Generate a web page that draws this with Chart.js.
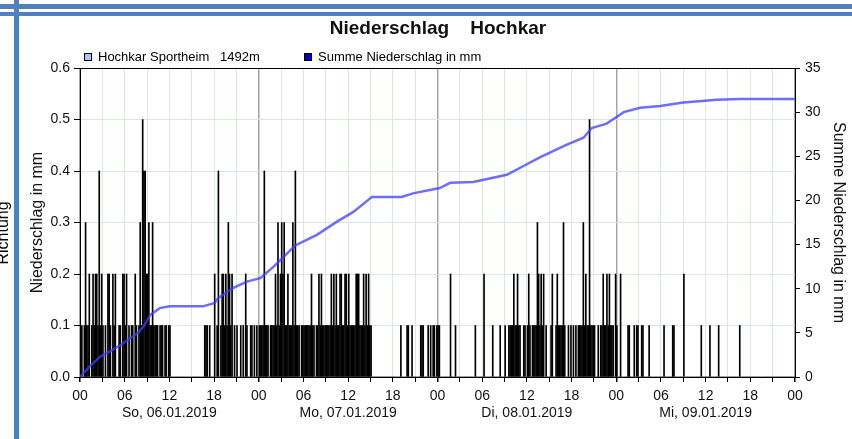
<!DOCTYPE html>
<html>
<head>
<meta charset="utf-8">
<script src="https://cdn.jsdelivr.net/npm/chart.js@4.4.1/dist/chart.umd.min.js"></script>
<style>
  html, body { margin: 0; padding: 0; background: #fff; }
  canvas { display: block; }
</style>
</head>
<body>
<canvas id="myChart" width="852" height="439"></canvas>
<script>
// 10-minute precipitation (mm), one row = 4 hours
const day1 = [
  0.1,0.1,0,0.1,0.3,0.1, 0.1,0.2,0,0.1,0.2,0.1, 0.2,0.2,0.1,0.4,0.1,0.2, 0.1,0,0.1,0,0.2,0.2,
  0.1,0,0.2,0.1,0.2,0, 0,0.1,0.1,0,0.2,0.2, 0.1,0.2,0,0.1,0,0.1, 0.1,0,0.2,0.1,0,0.1,
  0.3,0.1,0.5,0.4,0.4,0.2, 0.2,0.3,0.1,0.1,0.3,0.1, 0.1,0.1,0.1,0,0.1,0.1, 0.1,0,0.1,0.1,0,0.1,
  0.1,0,0,0,0,0, 0,0,0,0,0,0, 0,0,0,0,0,0, 0,0,0,0,0,0,
  0,0,0,0,0.1,0.1, 0.1,0,0.1,0,0,0, 0.2,0,0.1,0.4,0,0.1, 0.2,0.2,0.1,0.2,0.1,0.3,
  0.2,0.1,0.2,0,0.1,0, 0.1,0,0,0.1,0,0.1, 0,0.2,0.1,0,0,0.1, 0.1,0,0.1,0,0.1,0
];
const day2 = [
  0.1,0.1,0.1,0.1,0.4,0.1, 0.1,0.1,0,0.1,0.1,0.1, 0.1,0.2,0.1,0.3,0.1,0.2, 0.3,0.2,0.3,0.1,0.1,0.2,
  0.1,0.1,0.1,0.3,0.1,0.4, 0.1,0.1,0.1,0,0.1,0.1, 0.1,0.1,0.1,0.1,0.1,0.1, 0.2,0.1,0.1,0,0.1,0.1,
  0.2,0.1,0.2,0.1,0.1,0.1, 0.1,0.1,0.1,0.1,0.2,0.1, 0.2,0.1,0.2,0.1,0.1,0.2, 0.2,0.1,0.1,0.2,0.2,0.1,
  0.2,0.1,0.1,0.1,0.1,0.1, 0.2,0.2,0.2,0.1,0.1,0.1, 0.2,0.1,0.2,0.1,0.2,0.1, 0.1,0,0,0,0,0,
  0,0,0,0,0,0, 0,0,0,0,0,0, 0,0,0,0,0,0, 0.1,0,0,0,0,0.1,
  0.1,0,0,0.1,0,0, 0,0,0,0,0.1,0.1, 0.1,0,0,0,0.1,0, 0.1,0,0.1,0.1,0,0.1
];
const day3 = [
  0.1,0.1,0,0,0,0, 0,0,0,0,0.2,0, 0,0,0.1,0,0,0, 0,0,0,0,0,0,
  0,0,0,0,0,0, 0.1,0,0,0,0,0, 0,0.2,0,0,0,0, 0,0,0.1,0,0,0,
  0,0,0.1,0,0,0, 0.1,0,0,0.1,0.1,0.1, 0.1,0.2,0.1,0.1,0.2,0.1, 0.1,0,0,0.1,0.1,0,
  0.1,0.2,0.1,0,0.1,0.1, 0.1,0.1,0.3,0.2,0.1,0.2, 0.1,0.2,0,0.1,0,0, 0,0.1,0.2,0,0,0.1,
  0.2,0.1,0.1,0.1,0.1,0.3, 0.1,0,0,0.1,0,0.1, 0,0.1,0,0.1,0,0.1, 0.1,0.1,0.1,0.3,0.1,0.2,
  0.1,0.1,0.5,0.1,0.1,0.1, 0.1,0,0,0.1,0,0.1, 0.1,0.2,0.1,0.1,0.2,0.1, 0.2,0.1,0.1,0.1,0,0.2
];
const day4 = [
  0.1,0,0,0.2,0,0, 0,0,0,0.1,0.1,0, 0,0,0.1,0,0.1,0.1, 0,0,0.1,0.1,0,0,
  0,0,0.1,0,0,0, 0,0,0,0,0,0, 0,0,0.1,0,0,0, 0,0,0,0.1,0.1,0,
  0,0,0,0,0,0, 0.2,0,0,0,0,0, 0,0,0,0,0,0, 0,0,0.1,0,0,0,
  0,0,0,0.1,0,0, 0,0,0,0,0.1,0, 0,0,0,0,0,0, 0,0,0,0,0,0,
  0,0,0,0.1,0,0, 0,0,0,0,0,0, 0,0,0,0,0,0, 0,0,0,0,0,0,
  0,0,0,0,0,0, 0,0,0,0,0,0, 0,0,0,0,0,0, 0,0,0,0,0,0
];

// cumulative sum (mm), hours since So 00:00
const sumHours = [0, 1.3, 2.7, 4, 5.4, 6.6, 7.8, 8.6, 9.4, 10.7, 12, 16.5, 18.1, 18.5, 20.6, 22.4,
  24.2, 26, 28.9, 31.8, 34.5, 36.7, 39.2, 43.2, 44.7, 48.3, 49.7, 52.8, 57.3, 59.1, 61.8, 65.3,
  67.6, 68.7, 70.7, 72.5, 73, 75.2, 77.9, 81, 85.5, 88.6, 96];
const sumValues = [0, 1.2, 2.3, 2.9, 3.6, 4.3, 5.0, 5.8, 7.0, 7.8, 8.0, 8.0, 8.4, 8.9, 10.1, 10.8,
  11.2, 12.5, 14.9, 16.1, 17.6, 18.7, 20.4, 20.4, 20.8, 21.4, 22.0, 22.1, 22.9, 23.7, 24.9, 26.3,
  27.1, 28.2, 28.7, 29.7, 30.0, 30.5, 30.7, 31.1, 31.4, 31.5, 31.5];

const dayLabels = ['So, 06.01.2019', 'Mo, 07.01.2019', 'Di, 08.01.2019', 'Mi, 09.01.2019'];
const legendLabels = ['Hochkar Sportheim   1492m', 'Summe Niederschlag in mm'];
const legendColors = ['rgb(160,200,250)', 'rgb(0,0,210)'];

const FONT = "'Liberation Sans', Arial, sans-serif";

const tenMin = [...day1, ...day2, ...day3, ...day4];

const decor = {
  id: 'decor',
  afterDraw(chart) {
    const { ctx, chartArea: a } = chart;
    ctx.save();
    // top edge of the plot frame
    ctx.strokeStyle = '#000';
    ctx.lineWidth = 1;
    ctx.beginPath();
    ctx.moveTo(a.left, a.top + 0.5);
    ctx.lineTo(a.right, a.top + 0.5);
    ctx.stroke();

    // legend
    const lx = [84, 304];
    ctx.font = '13px ' + FONT;
    ctx.textBaseline = 'middle';
    legendLabels.forEach((t, i) => {
      ctx.fillStyle = legendColors[i];
      ctx.fillRect(lx[i], 53, 8, 8);
      ctx.strokeStyle = '#000';
      ctx.strokeRect(lx[i] + 0.5, 53.5, 7, 7);
      ctx.fillStyle = '#000';
      ctx.fillText(t, lx[i] + 14, 57);
    });

    // page frame around the image
    ctx.fillStyle = 'rgb(79,129,189)';
    ctx.fillRect(0, 4, 852, 5);
    ctx.fillRect(0, 12, 852, 4);
    ctx.fillRect(14, 0, 5, 439);

    // cut-off axis title of the neighbouring chart
    ctx.translate(8, 233);
    ctx.rotate(-Math.PI / 2);
    ctx.font = '16px ' + FONT;
    ctx.textAlign = 'center';
    ctx.textBaseline = 'alphabetic';
    ctx.fillStyle = '#000';
    ctx.fillText('Richtung', 0, 0);
    ctx.restore();
  }
};

const data = {
  datasets: [{
    type: 'line',
    label: legendLabels[1],
    data: sumHours.map((h, i) => ({ x: h, y: sumValues[i] })),
    yAxisID: 'y2',
    borderColor: 'rgba(60,60,255,0.75)',
    borderWidth: 2.5,
    pointRadius: 0,
    tension: 0
  }, {
    type: 'bar',
    label: legendLabels[0],
    data: tenMin.map((v, i) => ({ x: (i + 0.5) / 6, y: v })),
    yAxisID: 'y',
    backgroundColor: '#000',
    barThickness: 1
  }]
};

const config = {
  data: data,
  plugins: [decor],
  options: {
    responsive: false,
    animation: false,
    layout: { padding: { left: 24, right: 0, top: 0, bottom: 0 } },
    plugins: {
      legend: { display: false },
      tooltip: { enabled: false },
      title: {
        display: true,
        text: 'Niederschlag    Hochkar',
        color: '#111',
        font: { family: FONT, size: 19, weight: 'bold', lineHeight: 1.2 },
        padding: { top: 17.6, bottom: 27.6 }
      }
    },
    scales: {
      x: {
        type: 'linear',
        min: 0,
        max: 96,
        offset: false,
        afterFit: s => { s.height = 62; },
        border: { color: '#000', width: 1 },
        grid: {
          offset: false,
          color: c => (c.tick && c.tick.value % 24 === 0) ? 'rgb(165,165,165)' : 'rgb(218,234,218)',
          lineWidth: c => (c.tick && c.tick.value % 24 === 0) ? 1.5 : 1,
          tickColor: '#000',
          tickLength: 5
        },
        ticks: {
          stepSize: 3,
          autoSkip: false,
          maxRotation: 0,
          padding: 6,
          color: '#111',
          font: { family: FONT, size: 14, lineHeight: 1.2 },
          callback: v => {
            if (v % 6) return '';
            const h = String(v % 24).padStart(2, '0');
            if (v % 24 === 12) return [h, dayLabels[Math.floor(v / 24)]];
            return h;
          }
        }
      },
      y: {
        position: 'left',
        min: 0,
        max: 0.6,
        afterFit: s => { s.width = 56; },
        border: { color: '#000', width: 1 },
        grid: { color: 'rgb(218,234,218)', tickColor: '#000', tickLength: 6 },
        ticks: {
          stepSize: 0.1,
          padding: 4,
          color: '#111',
          font: { family: FONT, size: 14 },
          callback: v => v.toFixed(1)
        },
        title: {
          display: true,
          text: 'Niederschlag in mm',
          color: '#111',
          font: { family: FONT, size: 16 }
        }
      },
      y2: {
        position: 'right',
        min: 0,
        max: 35,
        afterFit: s => { s.width = 57; },
        border: { color: '#000', width: 1 },
        grid: { drawOnChartArea: false, tickColor: '#000', tickLength: 5 },
        ticks: {
          stepSize: 5,
          padding: 5,
          color: '#111',
          font: { family: FONT, size: 14 }
        },
        title: {
          display: true,
          text: 'Summe Niederschlag in mm',
          color: '#111',
          font: { family: FONT, size: 16 }
        }
      }
    }
  }
};

const myChart = new Chart(document.getElementById('myChart'), config);
</script>
</body>
</html>
